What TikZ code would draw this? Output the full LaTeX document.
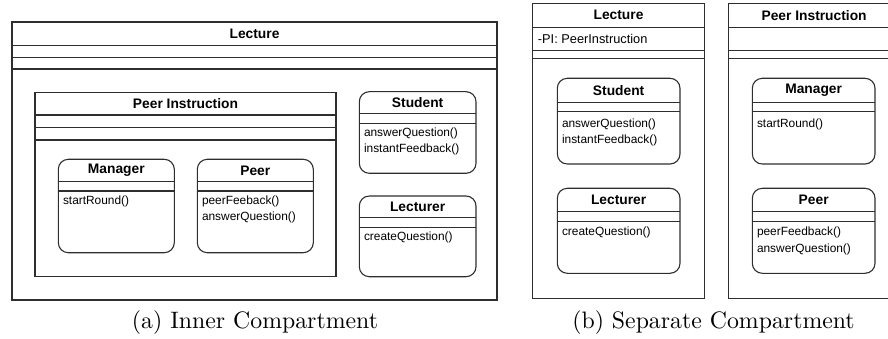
\documentclass[tikz,border=0pt]{standalone}
\usepackage{fontspec}
\usepackage{graphicx}
\newfontfamily\lib{Liberation Sans}
\usetikzlibrary{calc}
\definecolor{linec}{gray}{0.18}
\tikzset{
  box/.style={draw=linec, line width=1.1pt, inner sep=0pt, outer sep=0pt, anchor=north west},
  cls/.style={box, rounded corners=10pt},
  ln/.style={draw=linec, line width=1.1pt},
  ttl/.style={inner sep=0pt, font=\lib\bfseries\fontsize{13.8}{16}\selectfont},
  mth/.style={inner sep=0pt, anchor=west, font=\lib\fontsize{11.9}{14}\selectfont},
  attr/.style={inner sep=0pt, anchor=west, font=\lib\fontsize{12.8}{15}\selectfont},
  captxt/.style={inner sep=0pt, anchor=base, font=\fontsize{10}{12}\selectfont}
}
\begin{document}
\begin{tikzpicture}[x=1pt, y=-1pt]
\useasboundingbox (0,0) rectangle (888,339);
\clip (0,0) rectangle (888,339);

% ---------------- (a) Inner Compartment ----------------
\node[box, minimum width=485pt, minimum height=278pt] (lecA) at (12,22) {};
\draw[ln] ([yshift=-23.7pt]lecA.north west) -- ([yshift=-23.7pt]lecA.north east);
\draw[ln] ([yshift=-35.3pt]lecA.north west) -- ([yshift=-35.3pt]lecA.north east);
\draw[ln] ([yshift=-47pt]lecA.north west) -- ([yshift=-47pt]lecA.north east);
\node[ttl] (lecAt) at ([yshift=-11.9pt]lecA.north) {Lecture};

\node[box, minimum width=301pt, minimum height=184.2pt] (piA) at (35,92.5) {};
\draw[ln] ([yshift=-22.5pt]piA.north west) -- ([yshift=-22.5pt]piA.north east);
\draw[ln] ([yshift=-34.8pt]piA.north west) -- ([yshift=-34.8pt]piA.north east);
\draw[ln] ([yshift=-47.5pt]piA.north west) -- ([yshift=-47.5pt]piA.north east);
\node[ttl] (piAt) at ([yshift=-11.25pt]piA.north) {Peer Instruction};

\node[cls, minimum width=116pt, minimum height=93.4pt] (manA) at (58.3,159.3) {};
\draw[ln] ([yshift=-22.4pt]manA.north west) -- ([yshift=-22.4pt]manA.north east);
\draw[ln] ([yshift=-31.7pt]manA.north west) -- ([yshift=-31.7pt]manA.north east);
\node[ttl] (manAt) at ([yshift=-11.2pt]manA.north) {Manager};
\node[mth] (manAm1) at ([xshift=4.5pt, yshift=-41.7pt]manA.north west) {startRound()};

\node[cls, minimum width=116pt, minimum height=93.4pt] (peerA) at (197.3,159.3) {};
\draw[ln] ([yshift=-22.4pt]peerA.north west) -- ([yshift=-22.4pt]peerA.north east);
\draw[ln] ([yshift=-31.7pt]peerA.north west) -- ([yshift=-31.7pt]peerA.north east);
\node[ttl] (peerAt) at ([yshift=-11.2pt]peerA.north) {Peer};
\node[mth] (peerAm1) at ([xshift=4.5pt, yshift=-41.7pt]peerA.north west) {peerFeeback()};
\node[mth] (peerAm2) at ([xshift=4.5pt, yshift=-58.2pt]peerA.north west) {answerQuestion()};

\node[cls, minimum width=116.7pt, minimum height=81.6pt] (stuA) at (359.3,91.7) {};
\draw[ln] ([yshift=-21.6pt]stuA.north west) -- ([yshift=-21.6pt]stuA.north east);
\draw[ln] ([yshift=-31.6pt]stuA.north west) -- ([yshift=-31.6pt]stuA.north east);
\node[ttl] (stuAt) at ([yshift=-10.8pt]stuA.north) {Student};
\node[mth] (stuAm1) at ([xshift=4.5pt, yshift=-41.6pt]stuA.north west) {answerQuestion()};
\node[mth] (stuAm2) at ([xshift=4.5pt, yshift=-58pt]stuA.north west) {instantFeedback()};

\node[cls, minimum width=116.7pt, minimum height=80.7pt] (lrA) at (359.3,196) {};
\draw[ln] ([yshift=-21.3pt]lrA.north west) -- ([yshift=-21.3pt]lrA.north east);
\draw[ln] ([yshift=-31.3pt]lrA.north west) -- ([yshift=-31.3pt]lrA.north east);
\node[ttl] (lrAt) at ([yshift=-10.7pt]lrA.north) {Lecturer};
\node[mth] (lrAm1) at ([xshift=4.5pt, yshift=-41.5pt]lrA.north west) {createQuestion()};

% ---------------- (b) Separate Compartment ----------------
\node[box, minimum width=171.6pt, minimum height=295pt] (lecB) at (532.7,3.3) {};
\draw[ln] ([yshift=-24pt]lecB.north west) -- ([yshift=-24pt]lecB.north east);
\draw[ln] ([yshift=-47.4pt]lecB.north west) -- ([yshift=-47.4pt]lecB.north east);
\draw[ln] ([yshift=-55pt]lecB.north west) -- ([yshift=-55pt]lecB.north east);
\node[ttl] (lecBt) at ([yshift=-12pt]lecB.north) {Lecture};
\node[attr] (lecBa) at ([xshift=5pt, yshift=-35.7pt]lecB.north west) {-PI: PeerInstruction};

\node[box, minimum width=171.6pt, minimum height=295pt] (piB) at (728.3,3.3) {};
\draw[ln] ([yshift=-24pt]piB.north west) -- ([yshift=-24pt]piB.north east);
\draw[ln] ([yshift=-47.4pt]piB.north west) -- ([yshift=-47.4pt]piB.north east);
\draw[ln] ([yshift=-55pt]piB.north west) -- ([yshift=-55pt]piB.north east);
\node[ttl] (piBt) at ([yshift=-12pt]piB.north) {Peer Instruction};

\node[cls, minimum width=122.7pt, minimum height=85.7pt] (stuB) at (557.3,78.3) {};
\draw[ln] ([yshift=-24.4pt]stuB.north west) -- ([yshift=-24.4pt]stuB.north east);
\draw[ln] ([yshift=-33.4pt]stuB.north west) -- ([yshift=-33.4pt]stuB.north east);
\node[ttl] (stuBt) at ([yshift=-12.2pt]stuB.north) {Student};
\node[mth] (stuBm1) at ([xshift=4.5pt, yshift=-45.7pt]stuB.north west) {answerQuestion()};
\node[mth] (stuBm2) at ([xshift=4.5pt, yshift=-61.7pt]stuB.north west) {instantFeedback()};

\node[cls, minimum width=122.7pt, minimum height=85pt] (lrB) at (557.3,188.3) {};
\draw[ln] ([yshift=-23.4pt]lrB.north west) -- ([yshift=-23.4pt]lrB.north east);
\draw[ln] ([yshift=-33.4pt]lrB.north west) -- ([yshift=-33.4pt]lrB.north east);
\node[ttl] (lrBt) at ([yshift=-11.7pt]lrB.north) {Lecturer};
\node[mth] (lrBm1) at ([xshift=4.5pt, yshift=-44.4pt]lrB.north west) {createQuestion()};

\node[cls, minimum width=122.7pt, minimum height=85.7pt] (manB) at (752.3,78.3) {};
\draw[ln] ([yshift=-24.4pt]manB.north west) -- ([yshift=-24.4pt]manB.north east);
\draw[ln] ([yshift=-33.4pt]manB.north west) -- ([yshift=-33.4pt]manB.north east);
\node[ttl] (manBt) at ([yshift=-12.2pt]manB.north) {Manager};
\node[mth] (manBm1) at ([xshift=4.5pt, yshift=-45.7pt]manB.north west) {startRound()};

\node[cls, minimum width=122.7pt, minimum height=85pt] (peerB) at (752.3,188.3) {};
\draw[ln] ([yshift=-23.4pt]peerB.north west) -- ([yshift=-23.4pt]peerB.north east);
\draw[ln] ([yshift=-33.4pt]peerB.north west) -- ([yshift=-33.4pt]peerB.north east);
\node[ttl] (peerBt) at ([yshift=-11.7pt]peerB.north) {Peer};
\node[mth] (peerBm1) at ([xshift=4.5pt, yshift=-44.4pt]peerB.north west) {peerFeedback()};
\node[mth] (peerBm2) at ([xshift=4.5pt, yshift=-61pt]peerB.north west) {answerQuestion()};

% ---------------- captions ----------------
\node[captxt] (capA) at (255,328) {\scalebox{2.38}{(a) Inner Compartment}};
\node[captxt] (capB) at (713.5,328) {\scalebox{2.38}{(b) Separate Compartment}};
\end{tikzpicture}
\end{document}
